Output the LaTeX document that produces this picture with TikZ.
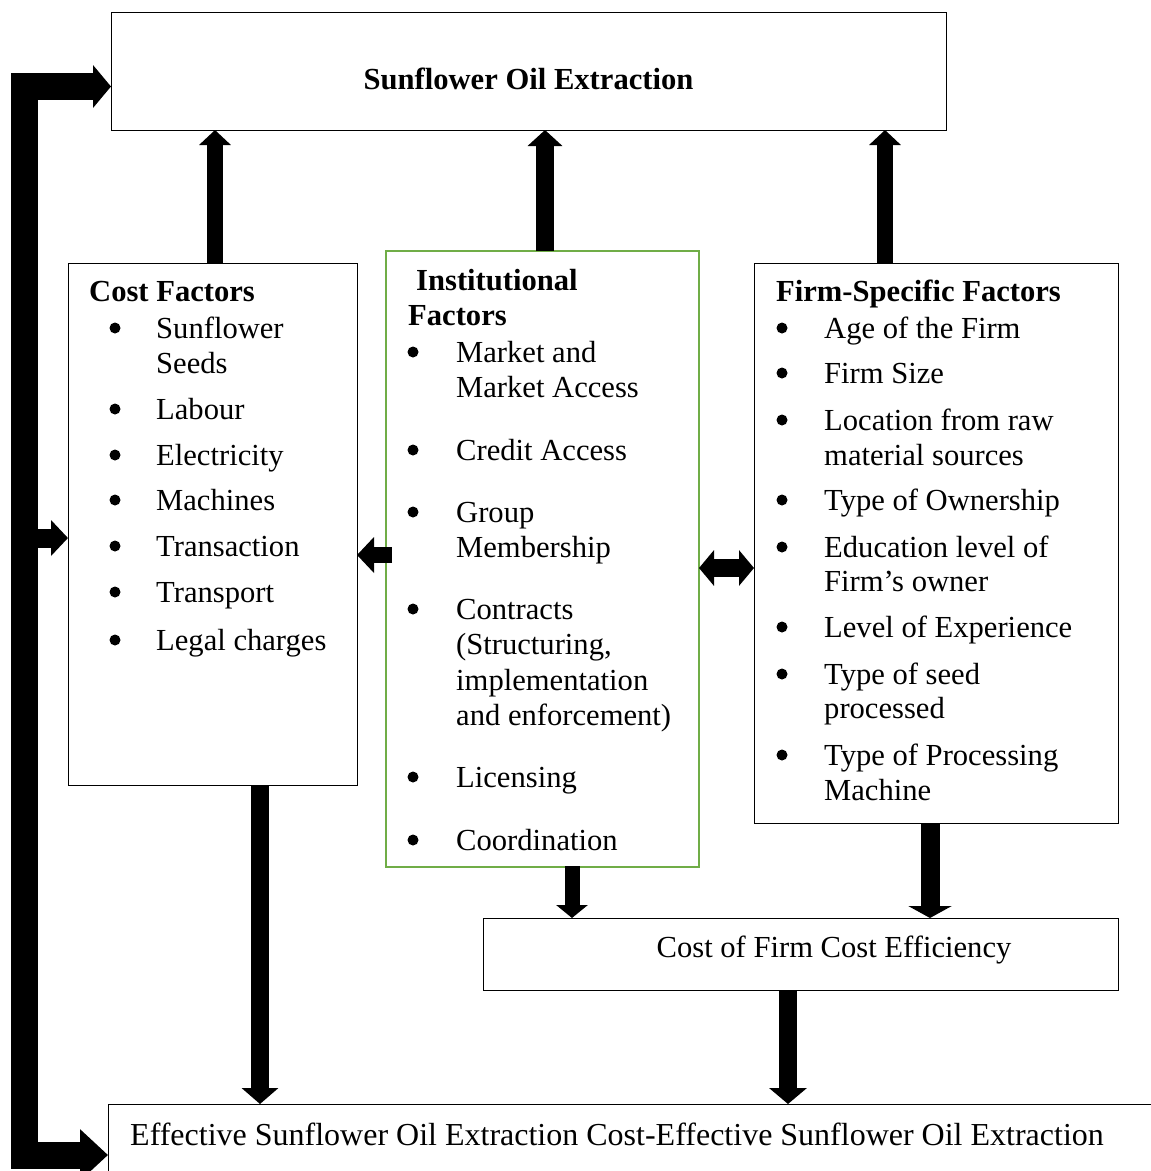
\documentclass[tikz,border=0pt]{standalone}
\usepackage{fontspec}
\setmainfont{Liberation Serif}
\usetikzlibrary{arrows.meta,calc}
\definecolor{instgreen}{RGB}{112,173,71}
\begin{document}
\begin{tikzpicture}[x=1pt,y=-1pt,
  box/.style={draw, line width=1pt, inner sep=0pt, outer sep=0pt},
  txt/.style={anchor=base west, inner sep=0pt, font=\fontsize{30.6}{35}\selectfont},
  btxt/.style={anchor=base west, inner sep=0pt, font=\fontsize{30.6}{35}\selectfont\bfseries},
  bul/.style={circle, fill=black, inner sep=0pt, minimum size=11pt},
  fat/.style={line width=#1, draw=black},
]
\clip (0,0) rectangle (1151,1171);
\useasboundingbox (0,0) rectangle (1151,1171);
\fill[white] (0,0) rectangle (1151,1171);

% boxes
\node[box, minimum width=835pt, minimum height=118pt] (top) at (528.5,71) {};
\node[box, minimum width=289pt, minimum height=522pt] (cost) at (212.5,524) {};
\node[box, draw=instgreen, line width=2pt, minimum width=313pt, minimum height=616pt] (inst) at (542.5,559) {};
\node[box, minimum width=364pt, minimum height=560pt] (firm) at (936,543) {};
\node[box, minimum width=635pt, minimum height=72pt] (eff) at (800.5,954) {};
\node[box, minimum width=1092pt, minimum height=96pt] (bottom) at (654,1152) {};

% titles
\node[btxt, anchor=base] (toptext) at (528.5,89) {Sunflower Oil Extraction};
\node[txt, anchor=base] (efftext) at (834,957) {Cost of Firm Cost Efficiency};
\node[txt, font=\fontsize{32}{35}\selectfont] (bottomtext) at (130,1145) {Effective Sunflower Oil Extraction Cost-Effective Sunflower Oil Extraction};

% cost factors
\node[btxt] (ch) at (89,301) {Cost Factors};
\foreach \y [count=\i] in {338,419,465,510,556,602,650} \node[bul] (cb\i) at (115,\y-10) {};
\node[txt] (c1) at (156,338) {Sunflower};
\node[txt] (c1b) at (156,373) {Seeds};
\node[txt] (c2) at (156,419) {Labour};
\node[txt] (c3) at (156,465) {Electricity};
\node[txt] (c4) at (156,510) {Machines};
\node[txt] (c5) at (156,556) {Transaction};
\node[txt] (c6) at (156,602) {Transport};
\node[txt] (c7) at (156,650) {Legal charges};

% institutional factors
\node[btxt] (ih1) at (416,290) {Institutional};
\node[btxt] (ih2) at (408,325) {Factors};
\foreach \y [count=\i] in {362,460,522,619,787,850} \node[bul] (ib\i) at (413,\y-10) {};
\node[txt] (i1) at (456,362) {Market and};
\node[txt] (i1b) at (456,397) {Market Access};
\node[txt] (i2) at (456,460) {Credit Access};
\node[txt] (i3) at (456,522) {Group};
\node[txt] (i3b) at (456,557) {Membership};
\node[txt] (i4) at (456,619) {Contracts};
\node[txt] (i4b) at (456,654) {(Structuring,};
\node[txt] (i4c) at (456,690) {implementation};
\node[txt] (i4d) at (456,725) {and enforcement)};
\node[txt] (i5) at (456,787) {Licensing};
\node[txt] (i6) at (456,850) {Coordination};

% firm-specific factors
\node[btxt] (fh) at (776,301) {Firm-Specific Factors};
\foreach \y [count=\i] in {338,383,430,510,557,637,684,765} \node[bul] (fb\i) at (782,\y-10) {};
\node[txt] (f1) at (824,338) {Age of the Firm};
\node[txt] (f2) at (824,383) {Firm Size};
\node[txt] (f3) at (824,430) {Location from raw};
\node[txt] (f3b) at (824,465) {material sources};
\node[txt] (f4) at (824,510) {Type of Ownership};
\node[txt] (f5) at (824,557) {Education level of};
\node[txt] (f5b) at (824,591) {Firm’s owner};
\node[txt] (f6) at (824,637) {Level of Experience};
\node[txt] (f7) at (824,684) {Type of seed};
\node[txt] (f7b) at (824,718) {processed};
\node[txt] (f8) at (824,765) {Type of Processing};
\node[txt] (f8b) at (824,800) {Machine};

% connector anchor points
\coordinate (cu) at ($(cost.north)+(2.5,0)$);
\coordinate (iu) at ($(inst.north)+(2.5,0)$);
\coordinate (fu) at ($(firm.north)+(-51,0)$);
\coordinate (cd) at ($(cost.south)+(47.5,0)$);
\coordinate (id) at ($(inst.south)+(29.5,-1)$);
\coordinate (fd) at ($(firm.south)+(-6,0)$);
\coordinate (ed) at ($(eff.south)+(-12.5,0)$);

% up arrows to top box
\draw[fat=16pt, -{Triangle[width=31pt,length=15pt]}] (cu) -- (cu |- top.south);
\draw[fat=18pt, -{Triangle[width=34pt,length=16pt]}] (iu) -- (iu |- top.south);
\draw[fat=16pt, -{Triangle[width=31pt,length=15pt]}] (fu) -- (fu |- top.south);

% down arrows
\draw[fat=18pt, -{Triangle[width=36pt,length=16pt]}] (cd) -- (cd |- bottom.north);
\draw[fat=15pt, -{Triangle[width=31pt,length=13pt]}] (id) -- (id |- eff.north);
\draw[fat=19pt, -{Triangle[width=43pt,length=12pt]}] (fd) -- (fd |- eff.north);
\draw[fat=18pt, -{Triangle[width=37pt,length=16pt]}] (ed) -- (ed |- bottom.north);

% horizontal arrows between boxes
\draw[fat=16pt, -{Triangle[width=35pt,length=17pt]}] ($(inst.west)+(6,-4)$) -- ($(cost.east)+(0,31)$);
\draw[fat=18pt, {Triangle[width=35pt,length=15pt]}-{Triangle[width=35pt,length=15pt]}] ($(inst.east)+(0,9)$) -- ($(firm.west)+(0,25)$);

% left feedback bar
\coordinate (ltop) at ($(top.west)+(-87,15.5)$);
\coordinate (lbot) at ($(bottom.west)+(-84,3)$);
\draw[fat=27pt, line join=miter, {Triangle[width=42pt,length=18pt]}-{Triangle[width=50pt,length=28pt]}] ($(top.west)+(0,15.5)$) -- (ltop) -- (lbot) -- ($(bottom.west)+(0,3)$);
\draw[fat=19pt, -{Triangle[width=35pt,length=17pt]}] ($(cost.west)+(-44,14)$) -- ($(cost.west)+(0,14)$);
\end{tikzpicture}
\end{document}
